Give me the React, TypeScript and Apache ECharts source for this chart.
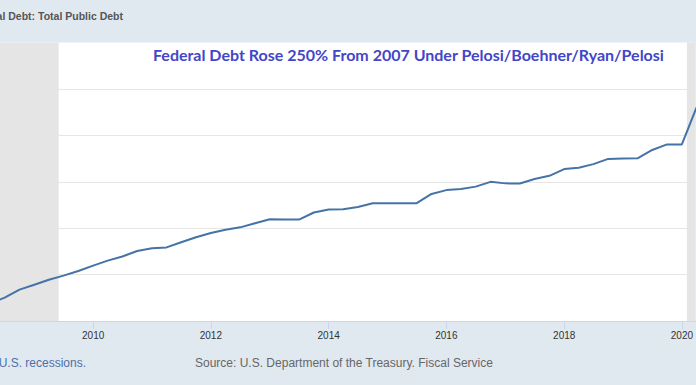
import React, { useEffect, useRef } from "react";
import * as echarts from "echarts";

// Quarterly dates (FRED plots quarterly data at quarter start)
const dates: string[] = [
  "2008-04-01", "2008-07-01", "2008-10-01",
  "2009-01-01", "2009-04-01", "2009-07-01", "2009-10-01",
  "2010-01-01", "2010-04-01", "2010-07-01", "2010-10-01",
  "2011-01-01", "2011-04-01", "2011-07-01", "2011-10-01",
  "2012-01-01", "2012-04-01", "2012-07-01", "2012-10-01",
  "2013-01-01", "2013-04-01", "2013-07-01", "2013-10-01",
  "2014-01-01", "2014-04-01", "2014-07-01", "2014-10-01",
  "2015-01-01", "2015-04-01", "2015-07-01", "2015-10-01",
  "2016-01-01", "2016-04-01", "2016-07-01", "2016-10-01",
  "2017-01-01", "2017-04-01", "2017-07-01", "2017-10-01",
  "2018-01-01", "2018-04-01", "2018-07-01", "2018-10-01",
  "2019-01-01", "2019-04-01", "2019-07-01", "2019-10-01",
  "2020-01-01", "2020-04-01",
];

// Total public debt, trillions of dollars
const debt: number[] = [
  9.49, 10.02, 10.70,
  11.13, 11.55, 11.91, 12.31,
  12.77, 13.20, 13.56, 14.03,
  14.27, 14.34, 14.79, 15.22,
  15.58, 15.86, 16.07, 16.43,
  16.77, 16.74, 16.74, 17.35,
  17.60, 17.63, 17.82, 18.14,
  18.15, 18.15, 18.15, 18.95,
  19.28, 19.38, 19.58, 19.99,
  19.86, 19.85, 20.24, 20.51,
  21.09, 21.20, 21.52, 21.97,
  22.00, 22.02, 22.74, 23.22,
  23.22, 26.40,
];

const recessions: [string, string][] = [
  ["2007-12-01", "2009-06-01"],
  ["2020-02-01", "2020-04-01"],
];

const tickLabels: string[] = ["2010", "2012", "2014", "2016", "2018", "2020"];

const xStart = "2008-06-02";
const xEnd = "2020-03-25";

const chartTitle = "Federal Debt Rose 250% From 2007 Under Pelosi/Boehner/Ryan/Pelosi";
const seriesTitle = "Federal Debt: Total Public Debt";
const recessionNote = "Shaded areas indicate U.S. recessions.";
const sourceNote = "Source: U.S. Department of the Treasury. Fiscal Service";

const ts = (d: string) => Date.parse(d + "T00:00:00Z");

export default function App() {
  const ref = useRef<HTMLDivElement>(null);

  useEffect(() => {
    if (!ref.current) return;
    const chart = echarts.init(ref.current, null, { renderer: "svg" });
    const tickValues = tickLabels.map((y) => ts(y + "-01-01"));
    chart.setOption({
      animation: false,
      backgroundColor: "#e1e9f0",
      grid: {
        left: 0,
        right: 0,
        top: 42.5,
        bottom: 64,
        show: true,
        backgroundColor: "#ffffff",
        borderWidth: 0,
      },
      xAxis: {
        type: "value",
        min: ts(xStart),
        max: ts(xEnd),
        axisLine: { show: true, lineStyle: { color: "#ccd6eb", width: 1 } },
        axisTick: {
          show: true,
          length: 8,
          lineStyle: { color: "#ccd6eb" },
          customValues: tickValues,
        },
        axisLabel: {
          customValues: tickValues,
          formatter: (v: number) => String(new Date(v).getUTCFullYear()),
          color: "#333333",
          fontSize: 10,
          fontFamily: "Liberation Sans, Arial, sans-serif",
          margin: 9,
        },
        splitLine: { show: false },
      },
      yAxis: {
        type: "value",
        min: 8,
        max: 32,
        interval: 4,
        axisLabel: { show: false },
        axisLine: { show: false },
        axisTick: { show: false },
        splitLine: {
          show: true,
          showMaxLine: false,
          lineStyle: { color: "#e6e6e6", width: 1 },
        },
      },
      series: [
        {
          type: "line",
          data: dates.map((d, i) => [ts(d), debt[i]]),
          showSymbol: false,
          symbol: "none",
          clip: true,
          lineStyle: { color: "#4572a7", width: 2 },
          itemStyle: { color: "#4572a7" },
          z: 5,
          markArea: {
            silent: true,
            itemStyle: { color: "#e5e5e5" },
            data: recessions.map(([a, b]) => [{ xAxis: ts(a) }, { xAxis: ts(b) }]),
          },
        },
      ],
      graphic: [
        {
          type: "text",
          right: 696 - 123,
          top: 10,
          style: {
            text: seriesTitle,
            fill: "#555555",
            font: "bold 10.5px 'Liberation Sans', Arial, sans-serif",
          },
        },
        {
          type: "text",
          left: 153,
          top: 46,
          style: {
            text: chartTitle,
            fill: "#4346c8",
            font: "bold 16px Lato, 'Noto Sans', sans-serif",
          },
        },
        {
          type: "text",
          right: 696 - 86,
          top: 357,
          style: {
            text: recessionNote,
            fill: "#4f6fa6",
            font: "12px 'Liberation Sans', Arial, sans-serif",
          },
        },
        {
          type: "text",
          left: 195,
          top: 357,
          style: {
            text: sourceNote,
            fill: "#666666",
            font: "12px 'Liberation Sans', Arial, sans-serif",
          },
        },
      ],
    });
    return () => chart.dispose();
  }, []);

  return (
    <div
      ref={ref}
      style={{ position: "absolute", left: 0, top: 0, width: 696, height: 385 }}
    />
  );
}
